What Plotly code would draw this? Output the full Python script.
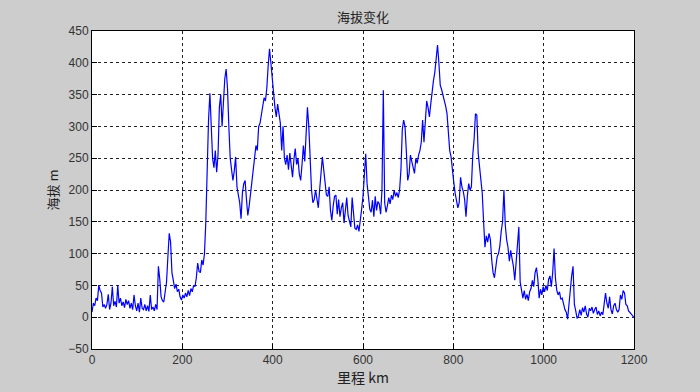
import plotly.graph_objects as go

# distance grid (km)
km = list(range(0, 1201, 3))

# elevation (m)
elev = [
    8, 22, 18, 30, 26, 50, 42, 38, 16, 20,
    14, 20, 36, 12, 22, 48, 18, 25, 16, 50,
    22, 30, 18, 24, 15, 28, 20, 26, 14, 22,
    12, 35, 18, 10, 22, 8, 30, 14, 12, 20,
    10, 18, 9, 35, 12, 16, 10, 20, 12, 80,
    60, 32, 26, 24, 40, 55, 95, 132, 118, 70,
    58, 45, 52, 40, 44, 32, 27, 35, 30, 38,
    32, 42, 34, 45, 40, 50, 48, 62, 85, 72,
    70, 90, 82, 100, 150, 240, 310, 352, 300, 250,
    235, 262, 228, 255, 330, 350, 300, 340, 375, 390,
    360, 300, 250, 232, 215, 230, 252, 205, 195, 180,
    155, 195, 210, 215, 185, 160, 175, 195, 205, 225,
    250, 270, 262, 300, 305, 320, 330, 345, 340, 360,
    395, 422, 400, 375, 345, 330, 315, 335, 320, 305,
    262, 300, 250, 240, 255, 232, 258, 235, 220, 248,
    265, 240, 250, 225, 215, 240, 270, 245, 290, 330,
    300, 255, 200, 180, 185, 200, 188, 172, 200, 230,
    252, 232, 210, 192, 190, 205, 168, 152, 175, 190,
    192, 162, 185, 158, 172, 180, 148, 168, 188, 160,
    150, 142, 188, 155, 140, 138, 145, 135, 150, 170,
    190, 218, 257, 210, 190, 170, 165, 184, 158, 190,
    168, 182, 178, 162, 200, 357, 180, 165, 175, 188,
    178, 192, 185, 200, 190, 196, 188, 200, 232, 295,
    310, 300, 260, 215, 225, 255, 245, 232, 226, 250,
    242, 255, 262, 275, 310, 275, 318, 340, 330, 315,
    335, 360, 372, 385, 405, 428, 400, 365, 358, 350,
    342, 332, 320, 290, 262, 252, 228, 212, 195, 180,
    172, 180, 220, 205, 198, 185, 158, 190, 210, 200,
    205, 255, 280, 320, 318, 258, 236, 218, 195, 150,
    110, 128, 118, 132, 122, 90, 70, 62, 80, 95,
    100, 112, 135, 150, 200, 145, 122, 110, 88, 105,
    92, 80, 58, 84, 105, 142, 55, 38, 30, 42,
    28, 36, 26, 40, 45, 58, 48, 70, 78, 60,
    30, 44, 35, 48, 40, 50, 42, 60, 65, 48,
    70, 108, 62, 42, 35, 40, 28, 30, 18, 12,
    8, -3, 20, 48, 65, 80, 20, 10, -2, 2,
    12, 3, 15, 8, 18, 5, 0, 14, 10, 16,
    6, 12, 16, 4, 10, 2, 8, 4, 20, 38,
    22, 14, 32, 12, 5, 18, 22, 12, 8, 12,
    35, 28, 42, 38, 20, 18, 10, 8, 5, 2, 0,
]

x_ticks = [0, 200, 400, 600, 800, 1000, 1200]
y_ticks = [-50, 0, 50, 100, 150, 200, 250, 300, 350, 400, 450]

fig = go.Figure()
fig.add_trace(go.Scatter(x=km, y=elev, mode="lines",
                         line=dict(color="#0000ff", width=1.2), showlegend=False))

axis_common = dict(
    showline=True, linecolor="black", linewidth=1, mirror=True,
    showgrid=True, gridcolor="#222222", griddash="3px,3px", gridwidth=1,
    zeroline=False, ticks="inside", ticklen=5, tickcolor="black",
    tickfont=dict(family="Liberation Sans, Arial", size=12, color="#333333"),
)

fig.update_layout(
    width=700, height=392,
    paper_bgcolor="#cdcdcd", plot_bgcolor="white",
    margin=dict(l=92, r=66, t=31, b=43),
    title=dict(text="海拔变化", x=0.5, xref="paper", y=0.955, yref="container",
               xanchor="center", yanchor="middle",
               font=dict(family="Noto Sans CJK SC", size=13, color="#222222")),
    xaxis=dict(range=[0, 1200], tickvals=x_ticks,
               title=dict(text="里程 km", standoff=2,
                          font=dict(family="Noto Sans CJK SC", size=14, color="#222222")),
               **axis_common),
    yaxis=dict(range=[-50, 450], tickvals=y_ticks,
               title=dict(text="海拔 m", standoff=6,
                          font=dict(family="Noto Sans CJK SC", size=13, color="#222222")),
               **axis_common),
)

fig.write_html("out.html",
               config={"displayModeBar": False},
               post_script="document.body.style.margin='0';document.body.style.background='#cdcdcd';")
